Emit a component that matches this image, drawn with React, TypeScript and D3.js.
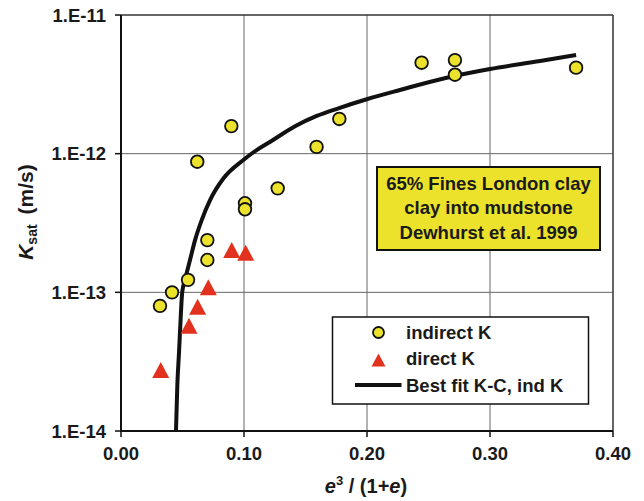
import React from 'react';
import * as d3 from 'd3';

// ---- data ----
const indirectX = [0.0317, 0.0415, 0.0545, 0.062, 0.0702, 0.0702, 0.0897, 0.1008, 0.1008, 0.1274, 0.159, 0.1775, 0.2444, 0.2715, 0.2715, 0.37];
const indirectK = [7.98e-14, 1.0e-13, 1.23e-13, 8.75e-13, 2.38e-13, 1.71e-13, 1.58e-12, 4.39e-13, 3.97e-13, 5.62e-13, 1.12e-12, 1.78e-12, 4.53e-12, 4.73e-12, 3.71e-12, 4.17e-12];
const directX = [0.0323, 0.0553, 0.0623, 0.071, 0.09, 0.1014];
const directK = [2.75e-14, 5.75e-14, 7.88e-14, 1.09e-13, 2.02e-13, 1.93e-13];
const fitX = [0.0447, 0.0458, 0.0472, 0.0485, 0.0498, 0.052, 0.0561, 0.0602, 0.0656, 0.0724, 0.0832, 0.1, 0.1063, 0.1236, 0.1415, 0.1591, 0.1767, 0.1998, 0.2268, 0.2648, 0.30, 0.3407, 0.37];
const fitK = [1.0e-14, 2.15e-14, 3.73e-14, 6.5e-14, 1.01e-13, 1.23e-13, 1.71e-13, 2.38e-13, 3.32e-13, 4.63e-13, 6.62e-13, 9.08e-13, 1.003e-12, 1.255e-12, 1.575e-12, 1.87e-12, 2.125e-12, 2.47e-12, 2.88e-12, 3.53e-12, 4.08e-12, 4.66e-12, 5.15e-12];

const xTicks = [0, 0.1, 0.2, 0.3, 0.4];
const xTickLabels = ['0.00', '0.10', '0.20', '0.30', '0.40'];
const yTicks = [1e-11, 1e-12, 1e-13, 1e-14];
const yTickLabels = ['1.E-11', '1.E-12', '1.E-13', '1.E-14'];
const annotationLines = ['65% Fines London clay', 'clay into mudstone', 'Dewhurst et al. 1999'];
const legendLabels = ['indirect K', 'direct K', 'Best fit K-C, ind K'];

const FONT = "'Liberation Sans', Arial, Helvetica, sans-serif";
const YELLOW = '#ECE22B';
const RED = '#E2321F';

export default function App() {
  const W = 644, H = 501;
  const left = 121, right = 613, top = 15, bottom = 431;
  const x = d3.scaleLinear().domain([0, 0.4]).range([left, right]);
  const y = d3.scaleLog().domain([1e-14, 1e-11]).range([bottom, top]);

  const fitLine = d3.line<number>()
    .x((_, i) => x(fitX[i]))
    .y((_, i) => y(fitK[i]))
    .curve(d3.curveMonotoneX);

  const tri = (cx: number, cy: number, w = 17, h = 16) =>
    `M${cx},${cy - h / 2}L${cx + w / 2},${cy + h / 2}L${cx - w / 2},${cy + h / 2}Z`;

  const legX = 332.5, legY = 317, legW = 256, legH = 87;

  return (
    <svg width={W} height={H} style={{ position: 'absolute', left: 0, top: 0, background: '#fff' }} fontFamily={FONT}>
      <rect x={0} y={0} width={W} height={H} fill="#fff" />
      {/* grid */}
      {xTicks.slice(1, -1).map((t) => (
        <line key={'gx' + t} x1={x(t)} x2={x(t)} y1={top} y2={bottom} stroke="#666" strokeWidth={1} />
      ))}
      {yTicks.slice(1, -1).map((t) => (
        <line key={'gy' + t} x1={left} x2={right} y1={y(t)} y2={y(t)} stroke="#666" strokeWidth={1} />
      ))}
      {/* frame */}
      <line x1={left} x2={right} y1={top} y2={top} stroke="#333" strokeWidth={1.5} />
      <line x1={right} x2={right} y1={top} y2={bottom} stroke="#333" strokeWidth={1.5} />
      <line x1={left} x2={left} y1={top} y2={bottom + 1} stroke="#111" strokeWidth={2} />
      <line x1={left - 1} x2={right} y1={bottom} y2={bottom} stroke="#111" strokeWidth={2} />
      {/* ticks */}
      {yTicks.map((t, i) => (
        <g key={'yt' + t}>
          <line x1={left - 6} x2={left} y1={y(t)} y2={y(t)} stroke="#111" strokeWidth={1.5} />
          <text x={106} y={y(t)} dy="0.36em" textAnchor="end" fontSize={18.5} fontWeight="bold" fill="#1a1a1a">{yTickLabels[i]}</text>
        </g>
      ))}
      {xTicks.map((t, i) => (
        <g key={'xt' + t}>
          <line x1={x(t)} x2={x(t)} y1={bottom} y2={bottom + 6} stroke="#111" strokeWidth={1.5} />
          <text x={x(t)} y={460} textAnchor="middle" fontSize={18.5} fontWeight="bold" fill="#1a1a1a">{xTickLabels[i]}</text>
        </g>
      ))}
      {/* axis titles */}
      <text x={366} y={493} textAnchor="middle" fontSize={20} fontWeight="bold" fill="#1a1a1a">
        <tspan fontStyle="italic">e</tspan>
        <tspan fontSize={13} dy={-8}>3</tspan>
        <tspan dy={8}>{' / (1+'}</tspan>
        <tspan fontStyle="italic">e</tspan>
        <tspan>)</tspan>
      </text>
      <text transform={`translate(33,${212}) rotate(-90)`} textAnchor="middle" fontSize={21} fontWeight="bold" fill="#1a1a1a">
        <tspan fontStyle="italic">K</tspan>
        <tspan fontSize={14} dy={4}>sat</tspan>
        <tspan dy={-4} dx={10}>(m/s)</tspan>
      </text>
      {/* fit curve */}
      <path d={fitLine(fitX) || ''} fill="none" stroke="#111" strokeWidth={4} />
      {/* direct K triangles */}
      {directX.map((v, i) => (
        <path key={'d' + i} d={tri(x(v), y(directK[i]))} fill={RED} />
      ))}
      {/* indirect K circles */}
      {indirectX.map((v, i) => (
        <circle key={'c' + i} cx={x(v)} cy={y(indirectK[i])} r={6.3} fill={YELLOW} stroke="#111" strokeWidth={1.8} />
      ))}
      {/* annotation box */}
      <rect x={377} y={167} width={223} height={83} fill={YELLOW} stroke="#111" strokeWidth={2} />
      {annotationLines.map((s, i) => (
        <text key={'a' + i} x={488.5} y={189.5 + i * 24.5} textAnchor="middle" fontSize={18.5} fontWeight="bold" fill="#1a1a1a">{s}</text>
      ))}
      {/* legend */}
      <rect x={legX} y={legY} width={legW} height={legH} fill="#fff" stroke="#111" strokeWidth={1.5} />
      <circle cx={378.5} cy={332.5} r={5.5} fill={YELLOW} stroke="#111" strokeWidth={1.8} />
      <path d={tri(378.5, 360, 14, 13)} fill={RED} />
      <line x1={355} x2={401.5} y1={385} y2={385} stroke="#111" strokeWidth={4} />
      {legendLabels.map((s, i) => (
        <text key={'l' + i} x={406} y={338.5 + i * 26.5} fontSize={18.5} fontWeight="bold" fill="#1a1a1a">{s}</text>
      ))}
    </svg>
  );
}
